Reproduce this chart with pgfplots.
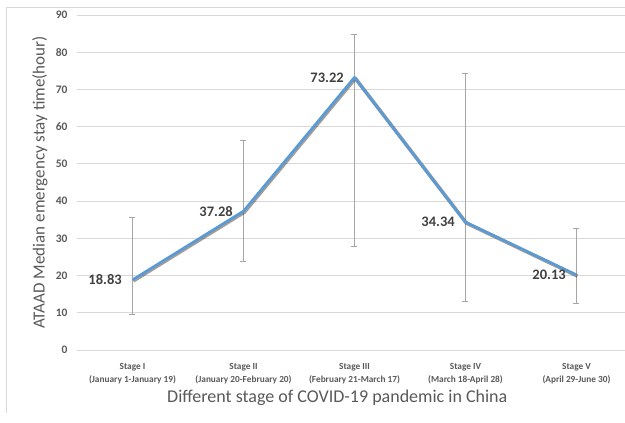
\documentclass[border=0pt]{standalone}
\usepackage{fontspec}
\setmainfont{Carlito}
\usepackage{pgfplots}
\usepackage{pgfplotstable}
\pgfplotsset{compat=1.18}
\pgfplotsset{/pgf/number format/assume math mode=true}
\definecolor{lineblue}{HTML}{5B9BD5}
\definecolor{txtgray}{HTML}{595959}
\definecolor{lblgray}{HTML}{404040}
\definecolor{gridgray}{HTML}{D9D9D9}
\definecolor{errgray}{HTML}{A6A6A6}
\pgfplotstableread{
x y ep em
0 18.83 16.87 9.23
1 37.28 18.92 13.48
2 73.22 11.58 45.32
3 34.34 40.06 21.34
4 20.13 12.47 7.63
}\data
\begin{document}
\begin{tikzpicture}
\useasboundingbox (0pt,0pt) rectangle (625pt,423pt);
\draw[gridgray, line width=0.8pt] (6pt,10pt) -- (6pt,416pt) -- (625pt,416pt);
\begin{axis}[
  at={(77pt,73pt)}, anchor=south west,
  scale only axis, width=555pt, height=335pt,
  xmin=-0.5, xmax=4.5, ymin=0, ymax=90,
  ytick={0,10,...,90},
  xtick={0,1,2,3,4},
  xticklabels={{Stage I\\(January 1-January 19)},{Stage II\\(January 20-February 20)},{Stage III\\(February 21-March 17)},{Stage IV\\(March 18-April 28)},{Stage V\\(April 29-June 30)}},
  axis line style={draw=none},
  major tick length=0pt,
  ymajorgrids, grid style={gridgray, line width=0.8pt},
  tick label style={text=txtgray},
  yticklabel style={font=\fontsize{11.5}{13}\selectfont\bfseries, xshift=-6pt},
  xticklabel style={font=\fontsize{9.3}{13}\selectfont\bfseries, align=center, yshift=-10pt},
  every axis y label/.style={at={(axis description cs:-0.0667,0.5)}, rotate=90, anchor=center},
  every axis x label/.style={at={(axis description cs:0.469,-0.143)}, anchor=center},
  ylabel={ATAAD Median emergency stay time(hour)},
  xlabel={Different stage of COVID-19 pandemic in China},
  xlabel style={text=txtgray, font=\fontsize{18}{20}\selectfont},
  ylabel style={text=txtgray, font=\fontsize{17}{19}\selectfont},
  clip=false,
]
\addplot[draw=none, mark=none, error bars/.cd, y dir=both, y explicit,
  error bar style={errgray, line width=0.8pt},
  error mark options={rotate=90, mark size=3pt, errgray, line width=0.8pt}]
  table[x=x, y=y, y error plus=ep, y error minus=em]{\data};
\addplot[draw=black!70!brown, opacity=0.45, line width=3.6pt, mark=none, line join=round,
  xshift=0.9pt, yshift=-0.9pt]
  table[x=x, y=y]{\data};
\addplot[draw=lineblue, line width=2.8pt, mark=none, line join=round,
  nodes near coords, point meta=y,
  nodes near coords align={anchor=east},
  every node near coord/.append style={font=\fontsize{14.5}{16}\selectfont\bfseries, text=lblgray, xshift=-6pt}]
  table[x=x, y=y]{\data};
\end{axis}
\end{tikzpicture}
\end{document}
